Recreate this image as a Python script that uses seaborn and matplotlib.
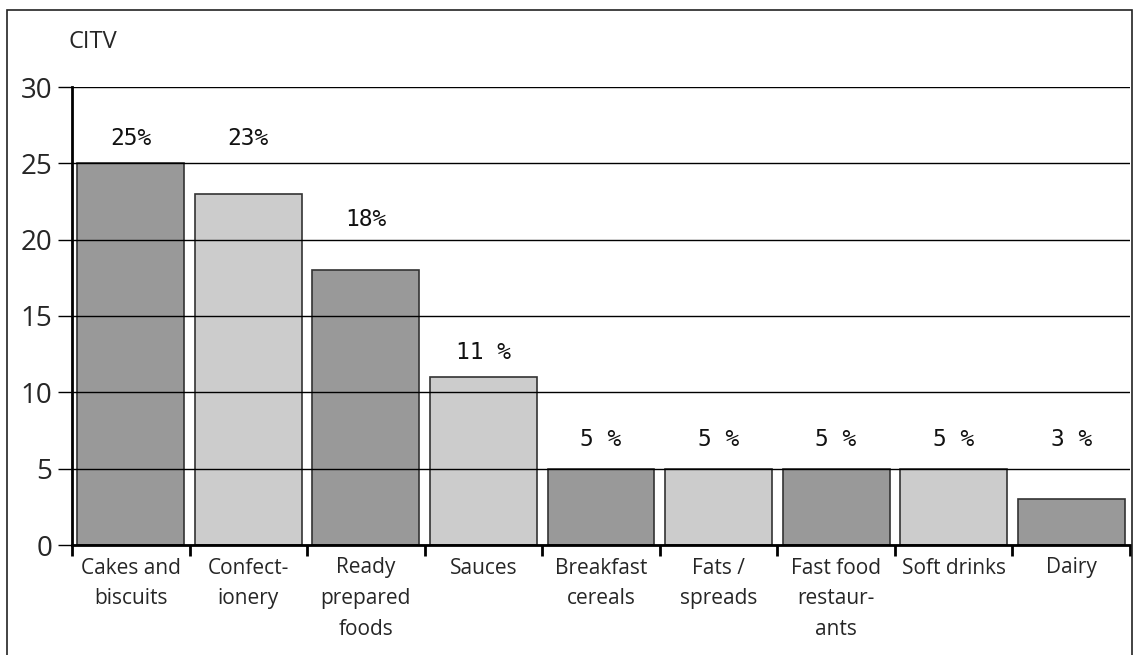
import matplotlib
matplotlib.use("Agg")
import matplotlib.pyplot as plt
from matplotlib.patches import Rectangle
import seaborn as sns

categories = ["Cakes and\nbiscuits", "Confect-\nionery", "Ready\nprepared\nfoods",
              "Sauces", "Breakfast\ncereals", "Fats /\nspreads",
              "Fast food\nrestaur-\nants", "Soft drinks", "Dairy"]
values = [25, 23, 18, 11, 5, 5, 5, 5, 3]
value_labels = ["25%", "23%", "18%", "11 %", "5 %", "5 %", "5 %", "5 %", "3 %"]
label_y = [26.6, 26.6, 21.3, 12.6, 6.9, 6.9, 6.9, 6.9, 6.9]
y_ticks = [0, 5, 10, 15, 20, 25, 30]

sns.set_theme(style="white")
plt.rcParams["font.family"] = ["Open Sans", "DejaVu Sans"]

dark, light = "#999999", "#cccccc"
palette = [dark if i % 2 == 0 else light for i in range(len(categories))]

fig = plt.figure(figsize=(11.33, 6.55), dpi=100)
ax = fig.add_axes([72 / 1133, 1 - 545 / 655, (1130 - 72) / 1133, (545 - 87) / 655])

sns.barplot(x=categories, y=values, hue=categories, palette=palette, legend=False,
            width=0.91, edgecolor="#333333", linewidth=1.2, saturation=1, ax=ax)

ax.set_xlim(-0.5, len(categories) - 0.5)
ax.set_ylim(0, 30)
ax.set_yticks(y_ticks)
ax.set_yticklabels([str(t) for t in y_ticks], fontsize=20)
ax.yaxis.grid(True, color="black", linewidth=1)
ax.set_axisbelow(False)
ax.tick_params(axis="y", which="major", direction="out", length=10, width=1,
               color="black", pad=4, left=True)

ax.set_xticks(range(len(categories)))
ax.set_xticklabels(categories, fontsize=15, linespacing=1.62, va="top")
ax.set_xticks([i - 0.5 for i in range(len(categories) + 1)], minor=True)
ax.tick_params(axis="x", which="major", length=0, pad=9)
ax.tick_params(axis="x", which="minor", direction="out", length=8, width=2,
               color="black", bottom=True)

for side in ("top", "right"):
    ax.spines[side].set_visible(False)
for side in ("left", "bottom"):
    ax.spines[side].set_color("black")
    ax.spines[side].set_linewidth(2)
ax.set_xlabel("")
ax.set_ylabel("")

for i, (txt, yv) in enumerate(zip(value_labels, label_y)):
    ax.text(i, yv, txt, ha="center", va="center", fontsize=16.5,
            family="DejaVu Sans Mono", color="#111111")

fig.text(68 / 1133, 1 - 42 / 655, "CITV", fontsize=17, ha="left", va="center")

fig.patches.append(Rectangle((7 / 1133, -0.1), (1131.5 - 7) / 1133, 1.1 - 10 / 655,
                             transform=fig.transFigure, fill=False,
                             edgecolor="#222222", linewidth=1.2))

fig.savefig("out.png", dpi=100)
